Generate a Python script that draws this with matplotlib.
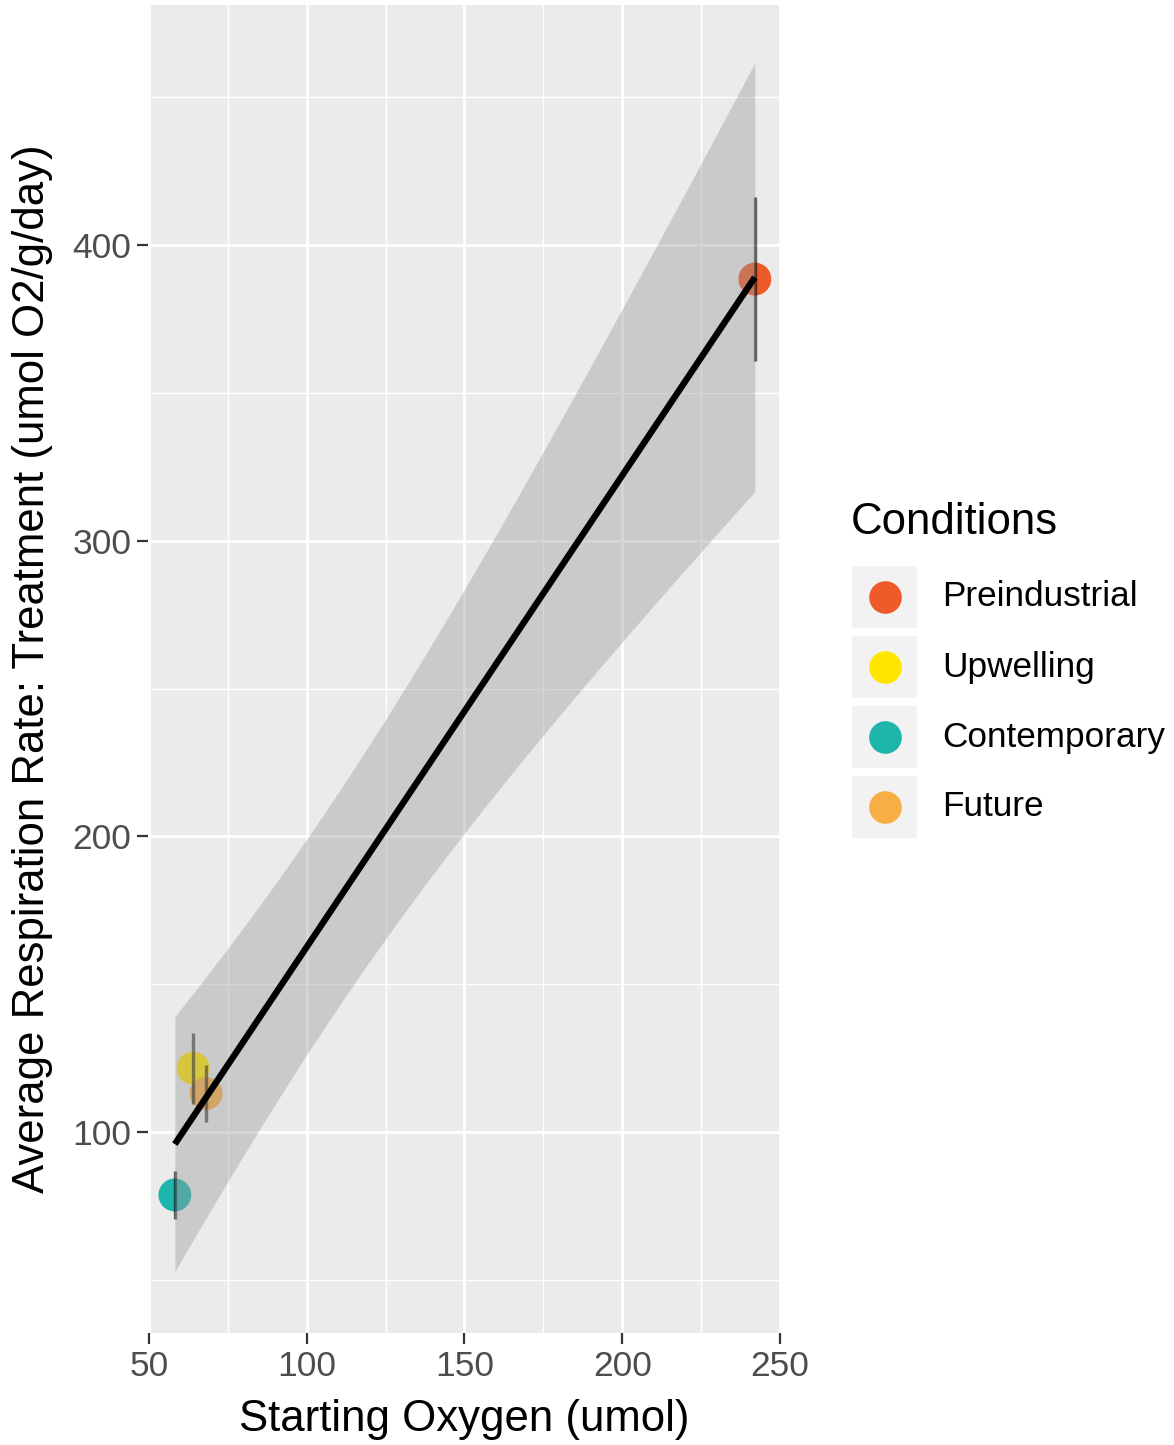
import numpy as np
import matplotlib
matplotlib.use("Agg")
import matplotlib.pyplot as plt
from matplotlib.patches import Rectangle
from matplotlib.lines import Line2D

plt.rcParams['font.family'] = ['Liberation Sans', 'DejaVu Sans']

# ---- data ----
conditions = ["Preindustrial", "Upwelling", "Contemporary", "Future"]
colors = ["#EF5A2B", "#FFE500", "#1EB5AD", "#F6AE45"]
starting_oxygen = [242.0, 64.0, 58.2, 68.1]
resp_rate = [388.5, 121.6, 78.7, 113.0]
resp_err = [27.7, 12.0, 8.2, 9.6]

x_ticks = [50, 100, 150, 200, 250]
y_ticks = [100, 200, 300, 400]
x_label = "Starting Oxygen (umol)"
y_label = "Average Respiration Rate: Treatment (umol O2/g/day)"
legend_title = "Conditions"

W, H = 1174, 1445
fig = plt.figure(figsize=(W / 100, H / 100), dpi=100)
fig.patch.set_facecolor("white")

def fx(px):
    return px / W

def fy(py):
    return 1 - py / H

# panel
left_px, right_px, top_px, bot_px = 148.0, 781.0, 5.0, 1333.0
ax = fig.add_axes([fx(left_px), fy(bot_px), fx(right_px) - fx(left_px), fy(top_px) - fy(bot_px)])
ax.set_facecolor("#EBEBEB")
ax.set_xlim(49.7, 250.3)
ax.set_ylim(32.0, 481.2)

for s in ax.spines.values():
    s.set_visible(False)

ax.set_xticks(x_ticks)
ax.set_yticks(y_ticks)
ax.set_xticks([75, 125, 175, 225], minor=True)
ax.set_yticks([50, 150, 250, 350, 450], minor=True)
ax.grid(which="major", color="white", linewidth=2.0)
ax.grid(which="minor", color="white", linewidth=1.0)
ax.set_axisbelow(True)
ax.tick_params(which="major", length=8, width=1.6, color="#333333",
               labelsize=25.5, labelcolor="#4D4D4D", pad=4)
ax.tick_params(which="minor", length=0)

# points
ax.scatter(starting_oxygen, resp_rate, s=560, c=colors, edgecolors="none", zorder=2)

# error bars
ax.errorbar(starting_oxygen, resp_rate, yerr=resp_err, fmt="none",
            ecolor="black", alpha=0.6, elinewidth=2.4, capsize=0, zorder=3)

# linear fit with 95% CI (lm)
xa = np.array(starting_oxygen)
ya = np.array(resp_rate)
n = len(xa)
slope, intercept = np.polyfit(xa, ya, 1)
resid = ya - (slope * xa + intercept)
s_err = np.sqrt(np.sum(resid ** 2) / (n - 2))
sxx = np.sum((xa - xa.mean()) ** 2)
t_val = 4.302653  # t(0.975, df=2)
xs = np.linspace(xa.min(), xa.max(), 100)
ys = slope * xs + intercept
se = s_err * np.sqrt(1 / n + (xs - xa.mean()) ** 2 / sxx)
ax.fill_between(xs, ys - t_val * se, ys + t_val * se, color="#999999", alpha=0.4,
                linewidth=0, zorder=4)
ax.plot(xs, ys, color="black", linewidth=4.6, zorder=5, solid_capstyle="butt")

ax.set_xlabel(x_label, fontsize=31.5, color="black", labelpad=12)
ax.set_ylabel(y_label, fontsize=31.5, color="black", labelpad=14)

# legend (manual, ggplot-like)
fig.text(fx(851), fy(523), legend_title, fontsize=31.5, color="black",
         ha="left", va="center")
row0 = 597
step = 70
for i, (lab, col) in enumerate(zip(conditions, colors)):
    cy = row0 + i * step
    fig.add_artist(Rectangle((fx(852), fy(cy + 31)), fx(917) - fx(852), fy(cy - 31) - fy(cy + 31),
                             transform=fig.transFigure, facecolor="#F2F2F2", edgecolor="none"))
    fig.add_artist(Line2D([fx(884.5)], [fy(cy)], transform=fig.transFigure, marker="o",
                          markersize=23.5, markerfacecolor=col, markeredgecolor="none",
                          linestyle="none"))
    fig.text(fx(942), fy(cy), lab, fontsize=25.3, color="black", ha="left", va="center")

fig.savefig("out.png", dpi=100, facecolor="white")
